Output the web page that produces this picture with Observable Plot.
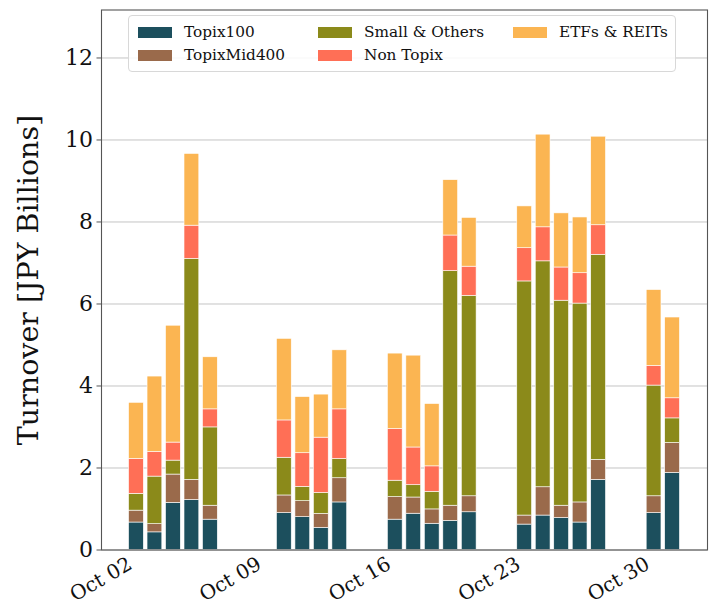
<!DOCTYPE html>
<html>
<head>
<meta charset="utf-8">
<script src="https://cdn.jsdelivr.net/npm/d3@7"></script>
<script src="https://cdn.jsdelivr.net/npm/@observablehq/plot@0.6"></script>
<style>
  body { margin: 0; background: #fff; }
  #wrap { position: relative; width: 711px; height: 603px; font-family: "DejaVu Serif", serif; }
  #legend { position: absolute; left: 128px; top: 15px; width: 548px; height: 57px;
            background: rgba(255,255,255,0.85); border: 1px solid #d8d8d8; border-radius: 4px; box-sizing: border-box; }
  .item { position: absolute; display: flex; align-items: center; font-size: 15.3px; color: #111; white-space: nowrap; }
  .sw { width: 34px; height: 11px; margin-right: 12px; }
</style>
</head>
<body>
<div id="wrap"></div>
<script>
// ---- data ----
const dates = ["2023-10-02","2023-10-03","2023-10-04","2023-10-05","2023-10-06",
               "2023-10-10","2023-10-11","2023-10-12","2023-10-13",
               "2023-10-16","2023-10-17","2023-10-18","2023-10-19","2023-10-20",
               "2023-10-23","2023-10-24","2023-10-25","2023-10-26","2023-10-27",
               "2023-10-30","2023-10-31"];
const topix100    = [0.67,0.43,1.15,1.22,0.74, 0.90,0.80,0.54,1.16, 0.74,0.885,0.64,0.71,0.92, 0.62,0.84,0.78,0.67,1.71, 0.90,1.88];
const topixMid400 = [0.29,0.20,0.69,0.49,0.34, 0.43,0.39,0.34,0.59, 0.55,0.395,0.35,0.37,0.39, 0.22,0.69,0.30,0.49,0.49, 0.41,0.73];
const smallOthers = [0.41,1.16,0.34,5.39,1.91, 0.92,0.35,0.51,0.47, 0.40,0.30,0.43,5.72,4.89, 5.71,5.51,5.00,4.85,5.00, 2.70,0.60];
const nonTopix    = [0.85,0.60,0.44,0.81,0.44, 0.91,0.82,1.35,1.21, 1.26,0.92,0.62,0.87,0.71, 0.81,0.83,0.81,0.74,0.72, 0.48,0.49];
const etfsReits   = [1.37,1.84,2.85,1.75,1.27, 1.99,1.37,1.05,1.44, 1.84,2.24,1.52,1.35,1.19, 1.02,2.26,1.32,1.36,2.16, 1.85,1.97];

const seriesNames  = ["Topix100","TopixMid400","Small & Others","Non Topix","ETFs & REITs"];
const seriesValues = [topix100, topixMid400, smallOthers, nonTopix, etfsReits];
const seriesColors = ["#1c4f5d","#9a6a4b","#8b8a1a","#ff6f56","#fbb552"];
const xTickDates   = ["2023-10-02","2023-10-09","2023-10-16","2023-10-23","2023-10-30"];
const yTicks       = [0,2,4,6,8,10,12];
const yLabel       = "Turnover [JPY Billions]";

// ---- build table ----
const DAY = 864e5;
const BAR = 0.8;
const parse = s => new Date(s + "T00:00:00Z");
const rows = [];
dates.forEach((d, i) => {
  const t = parse(d);
  seriesValues.forEach((vals, j) => {
    rows.push({
      date: t,
      x1: new Date(+t - BAR / 2 * DAY),
      x2: new Date(+t + BAR / 2 * DAY),
      series: seriesNames[j],
      value: vals[i]
    });
  });
});
const first = parse(dates[0]), last = parse(dates[dates.length - 1]);
const span = (+last - +first) / DAY + BAR;
const pad = span * 0.05 + BAR / 2;
const xDomain = [new Date(+first - pad * DAY), new Date(+last + pad * DAY)];

const chart = Plot.plot({
  width: 711,
  height: 603,
  marginLeft: 101,
  marginRight: 4,
  marginTop: 9.5,
  marginBottom: 53.5,
  style: { fontFamily: "DejaVu Serif, serif", background: "#fff" },
  x: { type: "utc", domain: xDomain, axis: null },
  y: { domain: [0, 13.17], axis: null },
  color: { domain: seriesNames, range: seriesColors },
  marks: [
    Plot.gridY(yTicks, { stroke: "#c4c4c4", strokeOpacity: 1, strokeWidth: 1 }),
    Plot.rectY(rows, {
      x1: "x1", x2: "x2", y: "value", fill: "series", z: "series",
      order: seriesNames, stroke: "white", strokeWidth: 0.6
    }),
    Plot.frame({ stroke: "#555", strokeWidth: 1.1 }),
    Plot.axisY({ ticks: yTicks, tickSize: 4.5, tickPadding: 4, fontSize: 22, label: null, stroke: "#555", fill: "#111" }),
    Plot.text(xTickDates.map(parse), {
      x: d => d, text: d3.utcFormat("%b %d"), frameAnchor: "bottom",
      textAnchor: "end", lineAnchor: "bottom", rotate: -30, dx: -3, dy: 18, fontSize: 20, fill: "#111"
    }),
    Plot.text([yLabel], { text: d => d, frameAnchor: "left", textAnchor: "middle", rotate: -90, dx: -73, fontSize: 28.5, fill: "#111" })
  ]
});

const wrap = document.getElementById("wrap");
wrap.appendChild(chart);

// ---- legend (3 columns, column-major like matplotlib ncol=3) ----
const legend = document.createElement("div");
legend.id = "legend";
const colLeft = [9, 189, 384];
const rowTop = [16, 39];
seriesNames.forEach((name, i) => {
  const col = Math.floor(i / 2), row = i % 2;
  const it = document.createElement("div");
  it.className = "item";
  it.style.left = colLeft[col] + "px";
  it.style.top = (rowTop[row] - 9) + "px";
  const sw = document.createElement("div");
  sw.className = "sw";
  sw.style.background = seriesColors[i];
  const tx = document.createElement("span");
  tx.textContent = name;
  it.appendChild(sw); it.appendChild(tx);
  legend.appendChild(it);
});
wrap.appendChild(legend);
</script>
</body>
</html>
